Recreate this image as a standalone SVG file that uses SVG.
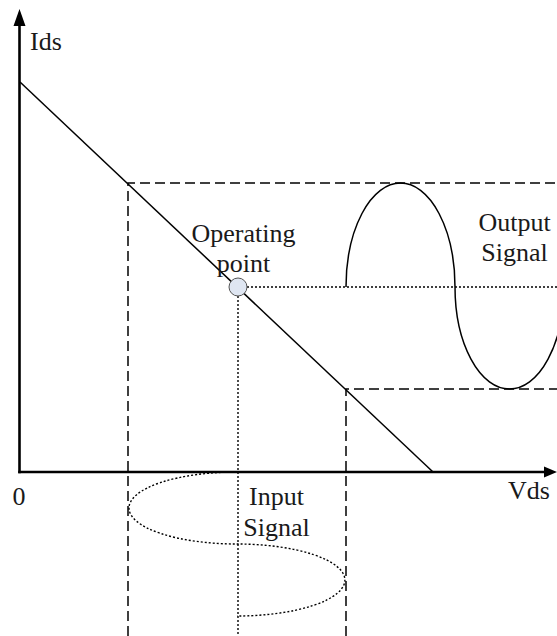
<svg xmlns="http://www.w3.org/2000/svg" width="557" height="636" viewBox="0 0 557 636">
  <style>
    .lbl { font-family: "Liberation Serif", "Times New Roman", serif; font-size: 26px; fill: #1a1a1a; }
    .axis { stroke: #000; stroke-width: 2.6; fill: none; }
    .solid { stroke: #000; stroke-width: 1.5; fill: none; }
    .dash { stroke: #000; stroke-width: 1.5; fill: none; stroke-dasharray: 10 5; }
    .dot { stroke: #000; stroke-width: 1.4; fill: none; stroke-dasharray: 2 2; }
  </style>
  <rect width="557" height="636" fill="#fff"/>

  <g id="axes">
    <line class="axis" x1="19.5" y1="22" x2="19.5" y2="473.3"/>
    <line class="axis" x1="18.2" y1="472" x2="546" y2="472"/>
    <polygon points="19.5,9 13.5,26 25.5,26" fill="#000"/>
    <polygon points="557,472 544,466.5 544,477.5" fill="#000"/>
  </g>

  <g id="guides">
    <polyline class="dash" points="128,636 128,183 557,183"/>
    <polyline class="dash" points="346,636 346,389 557,389"/>
    <line class="dot" x1="247" y1="287" x2="557" y2="287"/>
    <line class="dot" x1="238" y1="296" x2="238" y2="636"/>
  </g>

  <g id="load-line">
    <line class="solid" x1="20" y1="82" x2="433" y2="472"/>
  </g>

  <g id="output-signal">
    <path class="solid" d="M346,287 A54.5,104 0 0 1 455,287 A54.5,102 0 0 0 564,287"/>
  </g>

  <g id="input-signal">
    <path class="dot" d="M237,472 A108,36 0 0 0 237,544 A108,36 0 0 1 237,616"/>
  </g>

  <g id="operating-point">
    <circle cx="238" cy="287" r="9" fill="#dfe6f2" stroke="#555" stroke-width="1"/>
  </g>

  <g id="labels">
    <text class="lbl" x="30" y="50">Ids</text>
    <text class="lbl" x="12.5" y="505">0</text>
    <text class="lbl" x="508" y="499">Vds</text>
    <text class="lbl" x="243.5" y="242" text-anchor="middle">Operating</text>
    <text class="lbl" x="243.5" y="272" text-anchor="middle">point</text>
    <text class="lbl" x="514.5" y="231" text-anchor="middle">Output</text>
    <text class="lbl" x="514.5" y="261" text-anchor="middle">Signal</text>
    <text class="lbl" x="276.5" y="505" text-anchor="middle">Input</text>
    <text class="lbl" x="276.5" y="536" text-anchor="middle">Signal</text>
  </g>
</svg>
